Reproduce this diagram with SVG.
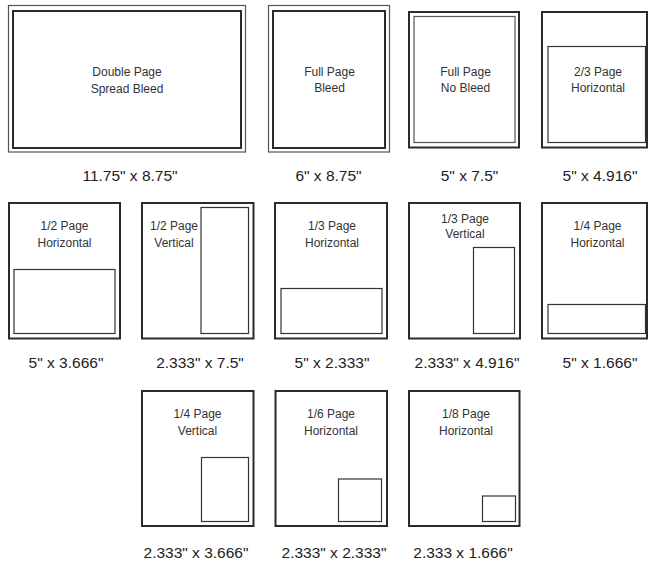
<svg xmlns="http://www.w3.org/2000/svg" width="649" height="561" viewBox="0 0 649 561">
<style>
.bg{fill:#fff}
.thick{fill:none;stroke:#2b2b2b;stroke-width:2}
.thin{fill:none;stroke:#555;stroke-width:1.2}
.inner{fill:none;stroke:#333;stroke-width:1.2}
.lbl{font-family:"Liberation Sans",Arial,sans-serif;font-size:12px;fill:#333;text-anchor:middle}
.cap{font-family:"Liberation Sans",Arial,sans-serif;font-size:15.5px;fill:#222;text-anchor:middle}
</style>
<rect class="bg" x="0" y="0" width="649" height="561"/>
<g id="connectors"/>
<g id="double-page">
<rect class="thin" x="8.5" y="5.5" width="237" height="146.5"/>
<rect class="thick" x="13" y="11" width="228" height="137"/>
<text class="lbl" x="127" y="76">Double Page</text>
<text class="lbl" x="127" y="93">Spread Bleed</text>
<text class="cap" x="130" y="181">11.75" x 8.75"</text>
</g>
<g id="full-bleed">
<rect class="thin" x="268.5" y="5.5" width="121" height="146.5"/>
<rect class="thick" x="273" y="11" width="112" height="137"/>
<text class="lbl" x="329.5" y="76">Full Page</text>
<text class="lbl" x="329.5" y="92">Bleed</text>
<text class="cap" x="328.5" y="181">6" x 8.75"</text>
</g>
<g id="full-nobleed">
<rect class="thick" x="409" y="12" width="110" height="135.5"/>
<rect class="thin" x="414" y="16.5" width="101" height="126"/>
<text class="lbl" x="465.5" y="76">Full Page</text>
<text class="lbl" x="465.5" y="92">No Bleed</text>
<text class="cap" x="469.5" y="181">5" x 7.5"</text>
</g>
<g id="two-thirds">
<rect class="thick" x="542" y="12" width="105" height="135.5"/>
<rect class="inner" x="548" y="46.5" width="97.5" height="96"/>
<text class="lbl" x="598" y="76">2/3 Page</text>
<text class="lbl" x="598" y="92">Horizontal</text>
<text class="cap" x="600" y="181">5" x 4.916"</text>
</g>
<g id="half-h">
<rect class="thick" x="9" y="203" width="111" height="135.5"/>
<rect class="inner" x="14" y="269.5" width="101" height="64"/>
<text class="lbl" x="64.5" y="230">1/2 Page</text>
<text class="lbl" x="64.5" y="246.5">Horizontal</text>
<text class="cap" x="66" y="368">5" x 3.666"</text>
</g>
<g id="half-v">
<rect class="thick" x="142" y="203" width="111.5" height="135.5"/>
<rect class="inner" x="201" y="207.5" width="47.5" height="126"/>
<text class="lbl" x="174" y="230">1/2 Page</text>
<text class="lbl" x="174" y="246.5">Vertical</text>
<text class="cap" x="200" y="368">2.333" x 7.5"</text>
</g>
<g id="third-h">
<rect class="thick" x="275" y="203" width="112" height="135.5"/>
<rect class="inner" x="281" y="288.5" width="101" height="45"/>
<text class="lbl" x="332" y="230">1/3 Page</text>
<text class="lbl" x="332" y="246.5">Horizontal</text>
<text class="cap" x="332" y="368">5" x 2.333"</text>
</g>
<g id="third-v">
<rect class="thick" x="409" y="203" width="111" height="135.5"/>
<rect class="inner" x="473.5" y="247.5" width="41" height="86"/>
<text class="lbl" x="465" y="223">1/3 Page</text>
<text class="lbl" x="465" y="237.5">Vertical</text>
<text class="cap" x="467" y="368">2.333" x 4.916"</text>
</g>
<g id="quarter-h">
<rect class="thick" x="542" y="203" width="105" height="135.5"/>
<rect class="inner" x="548" y="304.5" width="97.5" height="29"/>
<text class="lbl" x="597.5" y="230">1/4 Page</text>
<text class="lbl" x="597.5" y="246.5">Horizontal</text>
<text class="cap" x="600" y="368">5" x 1.666"</text>
</g>
<g id="quarter-v">
<rect class="thick" x="142" y="391" width="111.5" height="135"/>
<rect class="inner" x="201.5" y="457.5" width="47" height="64"/>
<text class="lbl" x="197.5" y="418">1/4 Page</text>
<text class="lbl" x="197.5" y="434.5">Vertical</text>
<text class="cap" x="196" y="558">2.333" x 3.666"</text>
</g>
<g id="sixth-h">
<rect class="thick" x="275.5" y="391" width="111.5" height="135"/>
<rect class="inner" x="338.5" y="479" width="43" height="42.5"/>
<text class="lbl" x="331" y="418">1/6 Page</text>
<text class="lbl" x="331" y="434.5">Horizontal</text>
<text class="cap" x="334" y="558">2.333" x 2.333"</text>
</g>
<g id="eighth-h">
<rect class="thick" x="409" y="391" width="110.5" height="135"/>
<rect class="inner" x="482.5" y="496" width="33" height="25.5"/>
<text class="lbl" x="466" y="418">1/8 Page</text>
<text class="lbl" x="466" y="434.5">Horizontal</text>
<text class="cap" x="463" y="558">2.333 x 1.666"</text>
</g>
</svg>
